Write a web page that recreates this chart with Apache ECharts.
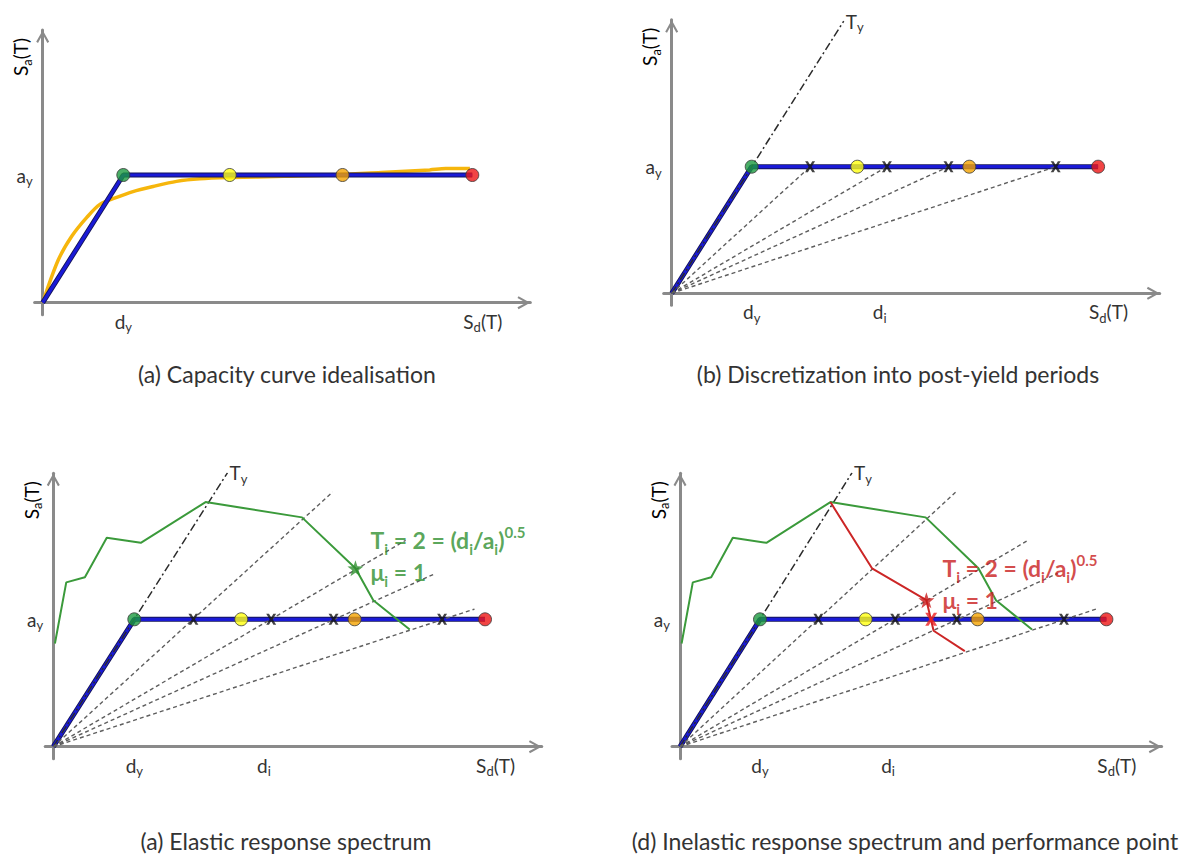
<!DOCTYPE html>
<html>
<head>
<meta charset="utf-8">
<title>Capacity spectrum method</title>
<script src="https://cdn.jsdelivr.net/npm/echarts@6.0.0/dist/echarts.min.js"></script>
<style>
  html, body { margin: 0; padding: 0; background: #ffffff; }
  #chart { width: 1192px; height: 857px; }
</style>
</head>
<body>
<div id="chart"></div>
<script>
// ---- data: x in units of d_y, y in units of a_y ----
// bilinear idealisation: origin, yield point, ultimate point
const idealX = [0, 1, 5.33];
const idealY = [0, 1, 1];

// original capacity curve
const capacityX = [0, 0.19, 0.36, 0.55, 0.71, 0.90, 1.12, 1.37, 1.66, 1.95, 2.33, 3.0, 3.61, 4.2, 4.8, 5.0, 5.30];
const capacityY = [0, 0.33, 0.52, 0.67, 0.77, 0.82, 0.87, 0.91, 0.95, 0.97, 0.98, 0.99, 1.0, 1.02, 1.04, 1.05, 1.05];

// damage-state thresholds on the plateau (yield, slight, extensive, collapse)
const stateX = [1, 2.32, 3.72, 5.33];

// post-yield displacements d_i and the end points of their secant-period lines
const postYieldX = [1.73, 2.69, 3.46, 4.8];
const secantEndX = [3.45, 4.35, 4.72, 5.2];
const secantEndY = [2.0, 1.62, 1.36, 1.08];

// yield period line T_y
const yieldPeriodX = [0, 2.15];
const yieldPeriodY = [0, 2.15];

// elastic and inelastic demand spectra (ADRS format)
const elasticX = [0.02, 0.16, 0.39, 0.66, 1.08, 1.88, 3.07, 3.73, 3.95, 4.40];
const elasticY = [0.81, 1.29, 1.33, 1.64, 1.60, 1.92, 1.80, 1.40, 1.15, 0.92];
const inelasticX = [1.88, 2.40, 3.08, 3.17, 3.56];
const inelasticY = [1.92, 1.40, 1.15, 0.91, 0.75];

const elasticStar = [3.73, 1.40];
const inelasticStar = [3.08, 1.15];
const performancePoint = [3.14, 1];

// axis labels
const xTickValues = [1, 2.6, 5.46];
const xTickLabels = ['d_y', 'd_i', 'S_d(T)'];
const yTickValues = [1];
const yTickLabels = ['a_y'];
const yAxisTitle = 'S_a(T)';
const periodLabel = 'T_y';
const spectrumLabel = ['T_i = 2 = (d_i/a_i)^0.5', 'μ_i = 1'];
const captions = [
  '(a) Capacity curve idealisation',
  '(b) Discretization into post-yield periods',
  '(a) Elastic response spectrum',
  '(d) Inelastic response spectrum and performance point'
];

// ---- styling / layout ----
const FONT = 'Lato';
const TEXT = '#333333';
const AXIS = '#8a8a8a';
const GREEN = '#3b9a3b';
const RED = '#cc2626';
const stateColors = ['#1c9a40', '#ffff10', '#f4a300', '#ee1515'];
const ARROW = 'path://M4.95,0L5.05,0L5,0.1Z M5,10L10,19L8.6,19.8L5,13.2L1.4,19.8L0,19Z';
const CROSS = 'path://M0,0L2.8,0L5,3.4L7.2,0L10,0L6.5,5L10,10L7.2,10L5,6.6L2.8,10L0,10L3.5,5Z';
const STAR = 'path://M50,0L61.76,33.82L97.55,34.55L69.02,56.18L79.39,90.45L50,70L20.61,90.45L30.98,56.18L2.45,34.55L38.24,33.82Z';

const X_MIN = -0.1, Y_MIN = -0.095;
// origin pixel, pixels per unit, axis extents and caption centre for each panel
const layouts = [
  { ox: 42.7,  oy: 302.7, sx: 80.6, sy: 127.7, xmax: 6.05, ymax: 2.135, cx: 287, cy: 374 },
  { ox: 671.7, oy: 293.3, sx: 80,   sy: 126.6, xmax: 6.10, ymax: 2.16,  cx: 898, cy: 374 },
  { ox: 53.3,  oy: 746.7, sx: 81,   sy: 127.4, xmax: 6.03, ymax: 2.146, cx: 286, cy: 841 },
  { ox: 680,   oy: 746.7, sx: 80,   sy: 127.4, xmax: 6.02, ymax: 2.146, cx: 905, cy: 841 }
];

function toRich(str) {
  return str.split(/(_.|\^[\d.]+)/).filter(t => t.length).map(t => {
    if (t[0] === '_') return '{s|' + t.slice(1) + '}';
    if (t[0] === '^') return '{p|' + t.slice(1) + '}';
    return '{m|' + t + '}';
  }).join('');
}
function richSet(size, color, weight, lh) {
  const small = Math.round(size * 0.66);
  const common = { fontFamily: FONT, color: color, fontWeight: weight, lineHeight: lh };
  return {
    m: Object.assign({ fontSize: size, verticalAlign: 'middle' }, common),
    s: Object.assign({ fontSize: small, verticalAlign: 'bottom' }, common),
    p: Object.assign({ fontSize: small, verticalAlign: 'top' }, common)
  };
}
const axisRich = richSet(19, TEXT, 'normal', 25);
const pts = (xs, ys) => xs.map((x, i) => [x, ys[i]]);

const grids = layouts.map(L => ({
  left: L.ox + X_MIN * L.sx,
  top: L.oy - L.ymax * L.sy,
  width: (L.xmax - X_MIN) * L.sx,
  height: (L.ymax - Y_MIN) * L.sy,
  containLabel: false,
  outerBoundsMode: 'none'
}));

const axisLine = {
  show: true, onZero: true,
  lineStyle: { color: AXIS, width: 3 },
  symbol: ['none', ARROW], symbolSize: [13, 25.7]
};

const xAxes = layouts.map((L, i) => ({
  type: 'value', gridIndex: i, min: X_MIN, max: L.xmax,
  axisLine: axisLine, axisTick: { show: false }, splitLine: { show: false },
  axisLabel: {
    customValues: i === 0 ? [xTickValues[0], xTickValues[2]] : xTickValues,
    formatter: v => toRich(xTickLabels[xTickValues.indexOf(v)] || ''),
    margin: -6, rich: axisRich
  }
}));
const yAxes = layouts.map((L, i) => ({
  type: 'value', gridIndex: i, min: Y_MIN, max: L.ymax,
  axisLine: axisLine, axisTick: { show: false }, splitLine: { show: false },
  axisLabel: {
    customValues: yTickValues,
    formatter: v => toRich(yTickLabels[yTickValues.indexOf(v)] || ''),
    margin: 2, rich: axisRich
  }
}));

const series = [];
function add(p, s) {
  series.push(Object.assign({ xAxisIndex: p, yAxisIndex: p, animation: false, silent: true }, s));
}
function lineSeries(p, data, style, z, extra) {
  add(p, Object.assign({ type: 'line', data: data, symbol: 'none', lineStyle: style, z: z }, extra || {}));
}

// (a) original capacity curve under the idealisation
lineSeries(0, pts(capacityX, capacityY), { color: '#f6b60c', width: 3.5 }, 2, { smooth: 0.3 });

layouts.forEach((L, p) => {
  // bilinear idealised capacity curve: dark rim with a blue core
  lineSeries(p, pts(idealX, idealY), { color: '#15155a', width: 5 }, 3);
  lineSeries(p, pts(idealX, idealY), { color: '#1a1ad6', width: 3.2 }, 3);

  if (p > 0) {
    // yield period line
    lineSeries(p, pts(yieldPeriodX, yieldPeriodY), { color: '#2b2b2b', width: 1.5, type: [8, 3, 2, 3] }, 4, {
      endLabel: { show: true, distance: 2, formatter: toRich(periodLabel), rich: axisRich }
    });
    // secant (post-yield) period lines
    postYieldX.forEach((xm, k) => {
      const end = p === 1 ? [xm, 1] : [secantEndX[k], secantEndY[k]];
      lineSeries(p, [[0, 0], end], { color: '#5e5e5e', width: 1.4, type: [4, 3] }, 4);
    });
    add(p, {
      type: 'scatter', data: postYieldX.map(x => [x, 1]), symbol: CROSS, symbolSize: [10, 11],
      itemStyle: { color: '#141414' }, z: 6
    });
  }

  // damage-state thresholds
  add(p, {
    type: 'scatter', symbolSize: 13, z: 7,
    itemStyle: { borderColor: '#3a3a3a', borderWidth: 1 },
    data: stateX.map((x, i) => ({ value: [x, 1], itemStyle: { color: stateColors[i] } }))
  });

  if (p >= 2) {
    lineSeries(p, pts(elasticX, elasticY), { color: GREEN, width: 2 }, 5);
  }
});

function spectrumMark(p, point, color, offset) {
  const rich = richSet(23, color, 'bold', 32);
  add(p, {
    type: 'scatter', data: [point], symbol: STAR, symbolSize: 16,
    itemStyle: { color: color }, z: 8,
    label: {
      show: true, position: offset, align: 'left', verticalAlign: 'top',
      formatter: spectrumLabel.map(toRich).join('\n'), rich: rich
    }
  });
}
// (c) elastic spectrum intersection
spectrumMark(2, elasticStar, '#2f8f2f', [23, -36]);
// (d) inelastic spectrum and performance point
lineSeries(3, pts(inelasticX, inelasticY), { color: RED, width: 2 }, 5);
spectrumMark(3, inelasticStar, '#c81c1c', [24, -40]);
add(3, {
  type: 'scatter', data: [performancePoint], symbol: CROSS, symbolSize: [12, 13],
  itemStyle: { color: '#ee2020' }, z: 8
});

// rotated y-axis titles and panel captions
const graphics = [];
layouts.forEach((L, p) => {
  graphics.push({
    type: 'text', x: L.ox - 22, y: L.oy - L.ymax * L.sy + 27, rotation: Math.PI / 2, silent: true,
    style: { text: toRich(yAxisTitle), rich: axisRich, align: 'center', verticalAlign: 'middle' }
  });
  graphics.push({
    type: 'text', x: L.cx, y: L.cy, silent: true,
    style: { text: captions[p], fontFamily: FONT, fontSize: 23, fill: TEXT, align: 'center', verticalAlign: 'middle' }
  });
});

const chart = echarts.init(document.getElementById('chart'), null, { renderer: 'svg', width: 1192, height: 857 });
chart.setOption({
  backgroundColor: '#ffffff',
  animation: false,
  textStyle: { fontFamily: FONT },
  grid: grids,
  xAxis: xAxes,
  yAxis: yAxes,
  series: series,
  graphic: graphics
});
</script>
</body>
</html>
